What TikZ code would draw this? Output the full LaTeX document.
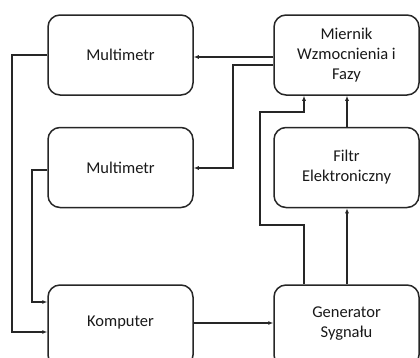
\documentclass[tikz,border=0pt]{standalone}
\usepackage{fontspec}
\setmainfont{Carlito}
\usetikzlibrary{arrows.meta}
\begin{document}
\begin{tikzpicture}[x=1pt,y=-1pt,
  txt/.style={font=\fontsize{16.5}{20}\selectfont, text=black!90, align=center},
  blk/.style={draw=black!85, line width=1.5pt, rounded corners=12pt, fill=white,
    minimum width=145pt, minimum height=80pt, inner sep=0pt, txt},
  conn/.style={line width=1.2pt, draw=black!85, -{Latex[length=5pt,width=4pt]}}]
\useasboundingbox (0,0) rectangle (420,357);
\node[blk] (m1) at (120.5,55) {Multimetr};
\node[blk] (mw) at (346.5,55) {Miernik\\Wzmocnienia i\\Fazy};
\node[blk] (m2) at (120.5,167.5) {Multimetr};
\node[blk] (fe) at (346.5,167.5) {Filtr\\Elektroniczny};
\node[blk, minimum height=82pt] (ko) at (120.5,326) {};
\node[txt] (kot) at (120.5,323) {Komputer};
\node[blk, minimum height=82pt] (ge) at (346.5,326) {};
\node[txt] (get) at (346.5,324) {Generator\\Sygnału};
% connectors
\draw[conn] (mw.west |- 0,57) -- (m1.east |- 0,57);
\draw[conn] (mw.west |- 0,65) -| (233,168) -- (m2.east |- 0,168);
\draw[conn] (m1.west |- 0,55) -| (12,332) -- (ko.west |- 0,332);
\draw[conn] (m2.west |- 0,170) -| (32,302) -- (ko.west |- 0,302);
\draw[conn] (ko.east |- 0,323) -- (ge.west |- 0,323);
\draw[conn] (ge.north -| 304,0) -- (304,225) -| (260,112) -| (mw.south -| 304,0);
\draw[conn] (ge.north -| 347,0) -- (fe.south -| 347,0);
\draw[conn] (fe.north -| 347,0) -- (mw.south -| 347,0);
\end{tikzpicture}
\end{document}
